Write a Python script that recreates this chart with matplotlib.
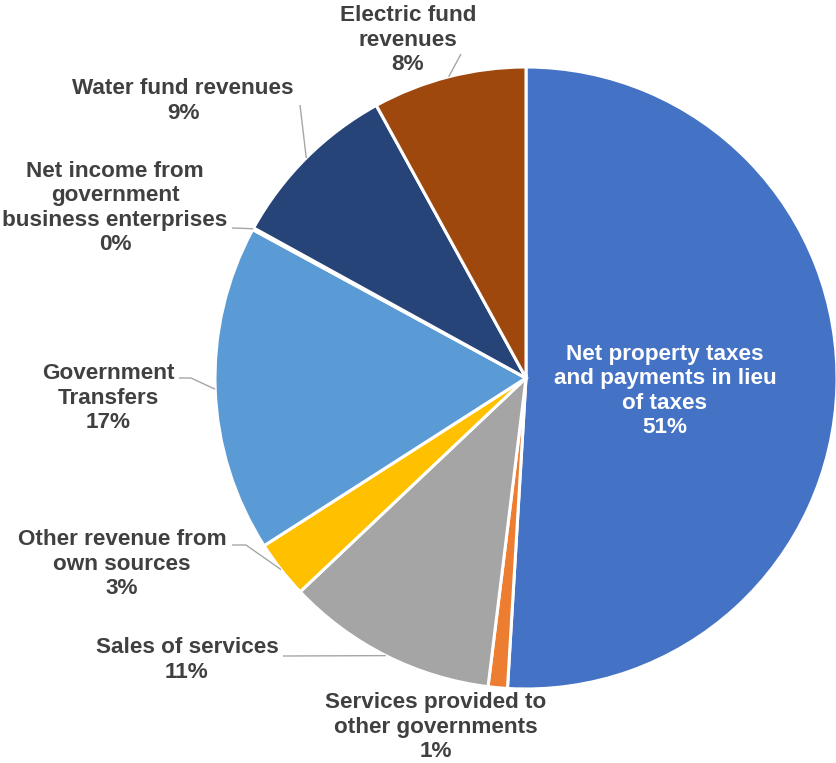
import numpy as np
import matplotlib.pyplot as plt

# slice data (clockwise from 12 o'clock)
label_text = ["Net property taxes\nand payments in lieu\nof taxes",
              "Services provided to\nother governments",
              "Sales of services",
              "Other revenue from\nown sources",
              "Government\nTransfers",
              "Net income from\ngovernment\nbusiness enterprises",
              "Water fund revenues",
              "Electric fund\nrevenues"]
values = [51, 1, 11, 3, 17, 0.1, 9, 8]
pct_text = ["51%", "1%", "11%", "3%", "17%", "0%", "9%", "8%"]
colors = ["#4472C4", "#ED7D31", "#A5A5A5", "#FFC000",
          "#5B9BD5", "#70AD47", "#264478", "#9E480E"]

# layout in pixels (top-left origin): label centre, leader start, elbow length
W, H = 836, 763
label_xy = [(665, 391), (436, 727), (187, 660), (122, 564),
            (108, 398), (115, 208), (183, 101), (408, 40)]
leader_from = [None, None, (283, 656), (232, 545),
               (179, 378), (232, 228), (300, 105), (461, 54)]
elbow = [0, 0, 0, 14, 12, 0, 0, 0]

cx, cy, r = 526, 378, 311

def fy(y):
    return H - y

plt.rcParams['font.family'] = ['Liberation Sans', 'DejaVu Sans']
fig = plt.figure(figsize=(W / 100, H / 100), dpi=100)
ax = fig.add_axes([0, 0, 1, 1])

wedges, _ = ax.pie(values, colors=colors, startangle=90, counterclock=False,
                   center=(cx, fy(cy)), radius=r, frame=True,
                   wedgeprops=dict(edgecolor="white", linewidth=2.2))
ax.set_xlim(0, W)
ax.set_ylim(0, H)
ax.axis("off")

for i, w in enumerate(wedges):
    txt = label_text[i] + "\n" + pct_text[i]
    col = "white" if i == 0 else "#404040"
    lx, ly = label_xy[i]
    ax.text(lx, fy(ly), txt, ha="center", va="center", fontsize=16.2,
            fontweight="bold", color=col, linespacing=1.2)
    if leader_from[i] is not None:
        mid = np.deg2rad((w.theta1 + w.theta2) / 2)
        ex = cx + r * np.cos(mid)
        ey = fy(cy) + r * np.sin(mid)
        sx, sy = leader_from[i]
        ax.plot([sx, sx + elbow[i], ex], [fy(sy), fy(sy), ey],
                color="#A6A6A6", lw=1.0, solid_capstyle="butt")

fig.savefig("out.png", dpi=100, facecolor="white")
